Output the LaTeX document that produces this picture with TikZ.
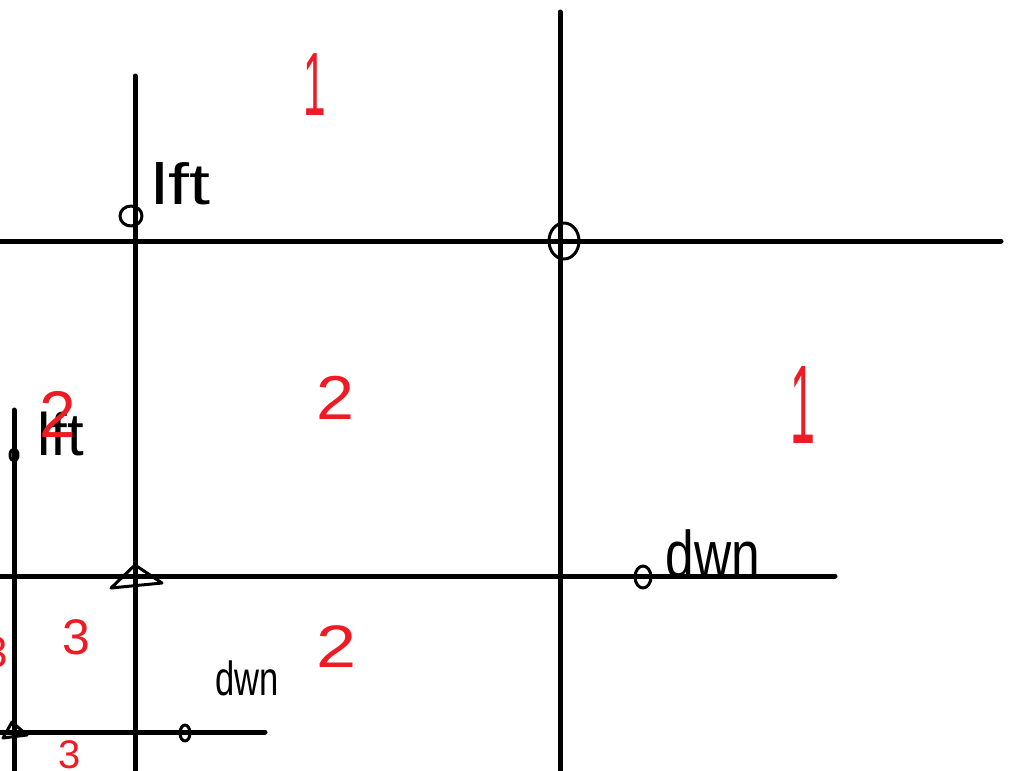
\documentclass[tikz,border=0pt]{standalone}
\usepackage{fontspec}
\setmainfont{Liberation Sans}
\definecolor{pred}{HTML}{ED1C24}
\begin{document}
\begin{tikzpicture}[x=1pt,y=-1pt,
  ink/.style={line width=5pt,black,line cap=round},
  pen/.style={line width=3pt,black,line cap=round,line join=round},
  rlab/.style={inner sep=0pt,text=pred},
  blab/.style={inner sep=0pt,text=black},
]
\useasboundingbox (0,0) rectangle (1020,771);
% lines
\coordinate (v1t) at (560,12);  \coordinate (v1b) at (560,771);
\coordinate (v2t) at (135,76);  \coordinate (v2b) at (135,771);
\coordinate (v3t) at (14,410);  \coordinate (v3b) at (14,771);
\coordinate (h1l) at (0,241);   \coordinate (h1r) at (1001,241);
\coordinate (h2l) at (0,576);   \coordinate (h2r) at (835,576);
\coordinate (h3l) at (0,732);   \coordinate (h3r) at (265,732);
\draw[ink] (v1t) -- (v1b);
\draw[ink] (v2t) -- (v2b);
\draw[ink] (v3t) -- (v3b);
\draw[ink] (h1l) -- (h1r);
\draw[ink] (h2l) -- (h2r);
\draw[ink] (h3l) -- (h3r);
% circles
\draw[pen] (131,216) ellipse [x radius=11, y radius=10];
\draw[pen] (564,241) ellipse [x radius=15, y radius=18];
\draw[pen] (14,455) ellipse [x radius=4, y radius=6];
\draw[pen] (643,577) ellipse [x radius=8, y radius=11];
\draw[pen] (185,733) ellipse [x radius=5, y radius=8];
% triangles
\draw[pen] (135,565) -- (111,588) -- (162,583) -- cycle;
\draw[pen] (12,722) -- (3,738) -- (27,735) -- cycle;
% black labels
\node[blab,font=\fontsize{58}{58}\selectfont,xscale=1.3] (lftA) at (181,184) {lft};
\node[blab,font=\fontsize{60}{60}\selectfont] (lftB) at (61,434) {lft};
\node[blab,font=\fontsize{66}{66}\selectfont,xscale=0.78] (dwnA) at (713,554) {dwn};
\node[blab,font=\fontsize{48}{48}\selectfont,xscale=0.72] (dwnB) at (247,678) {dwn};
% red labels
\node[rlab,font=\fontsize{90}{90}\selectfont,xscale=0.45] (oneA) at (315,85) {1};
\node[rlab,font=\fontsize{112}{112}\selectfont,xscale=0.4] (oneB) at (803,405) {1};
\node[rlab,font=\fontsize{62}{62}\selectfont,xscale=1.1] (twoA) at (335,398) {2};
\node[rlab,font=\fontsize{66}{66}\selectfont] (twoB) at (58,414) {2};
\node[rlab,font=\fontsize{60}{60}\selectfont,xscale=1.2] (twoC) at (337,647) {2};
\node[rlab,font=\fontsize{50}{50}\selectfont] (thrA) at (76,637) {3};
\node[rlab,font=\fontsize{40}{40}\selectfont] (thrB) at (70,755) {3};
\node[rlab,font=\fontsize{44}{44}\selectfont] (thrC) at (-4,652) {3};
\end{tikzpicture}
\end{document}
